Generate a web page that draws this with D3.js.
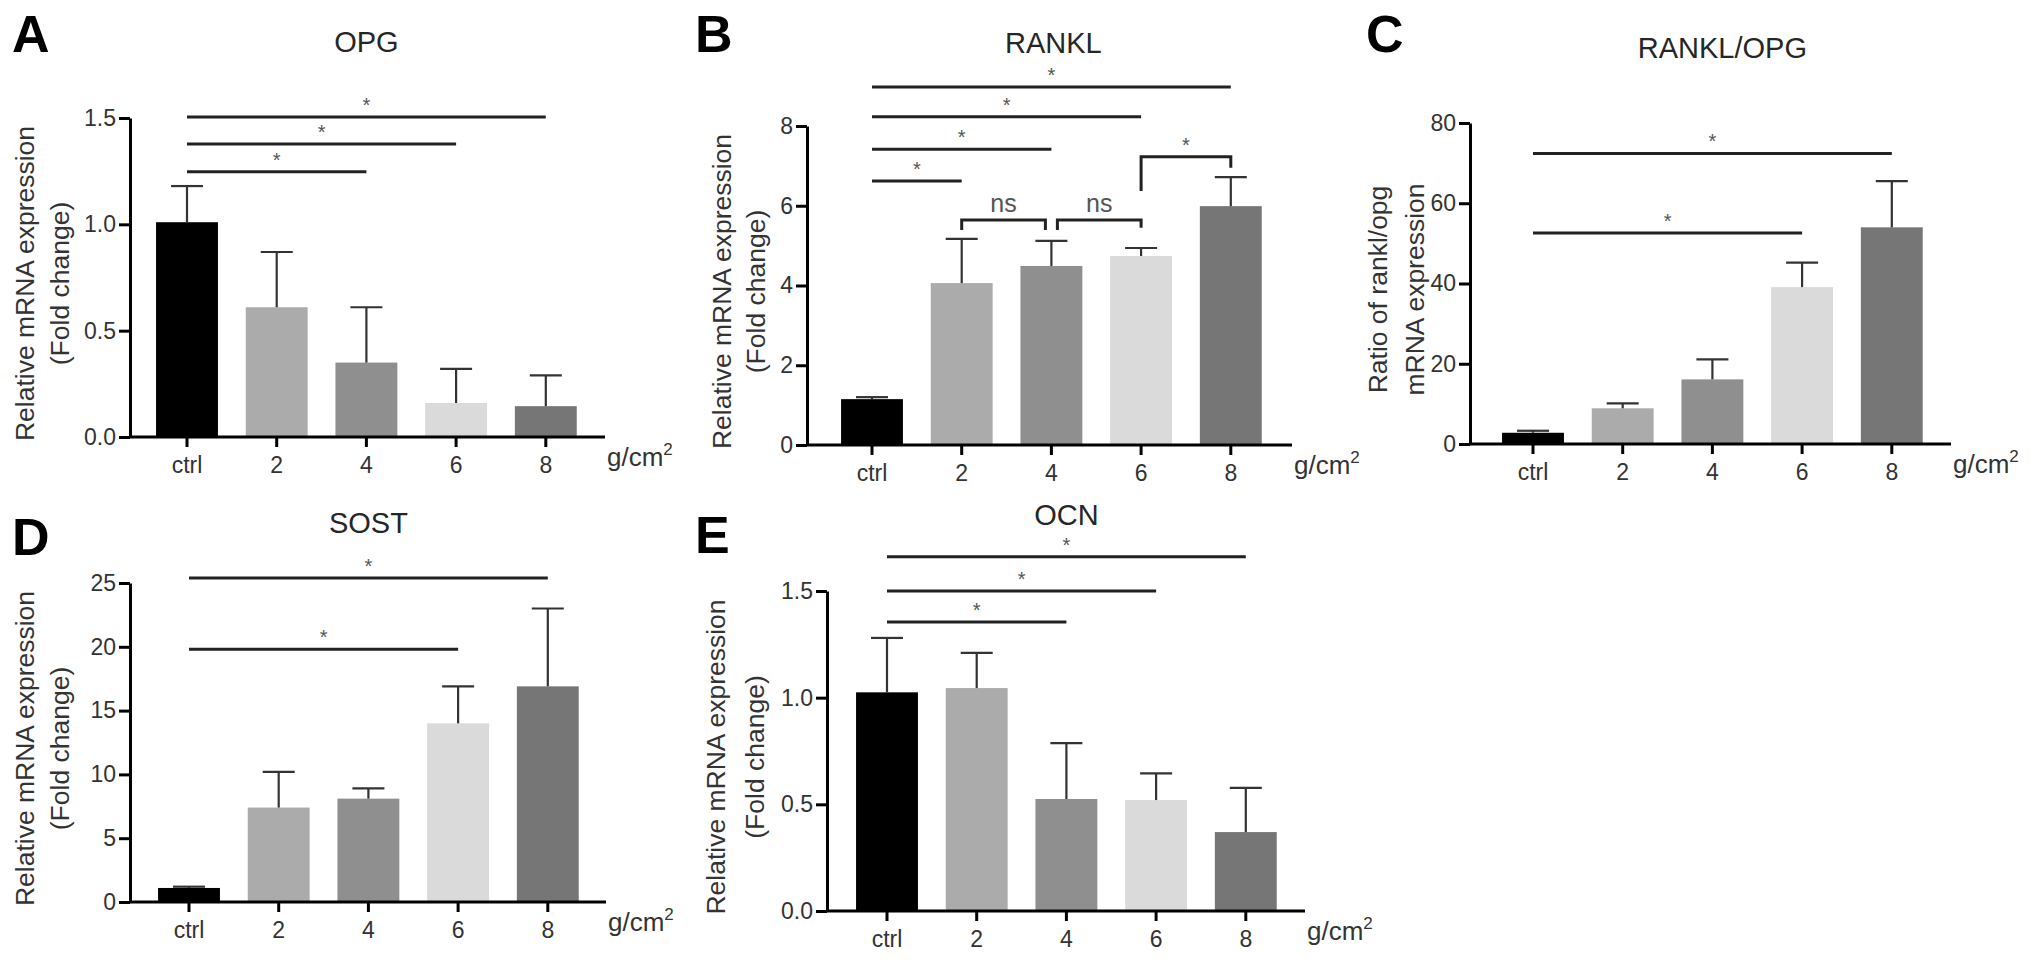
<!DOCTYPE html>
<html><head><meta charset="utf-8">
<script src="https://cdn.jsdelivr.net/npm/d3@7"></script>
<style>
html,body{margin:0;padding:0;background:#fff;}
svg{display:block;font-family:"Liberation Sans",Arial,Helvetica,sans-serif;}
</style></head>
<body>
<svg id="fig" width="2031" height="960"></svg>
<script>
// ---------------- data ----------------
const categories = ["ctrl", "2", "4", "6", "8"];
const unitLabel = "g/cm";

const opgMean  = [1.01, 0.61, 0.35, 0.16, 0.145];
const opgUpper = [1.18, 0.87, 0.61, 0.32, 0.29];
const opgTicks = [0, 0.5, 1.0, 1.5];
const opgSig   = [{from:"ctrl", to:"4", y:1.247}, {from:"ctrl", to:"6", y:1.378}, {from:"ctrl", to:"8", y:1.505}];

const ranklMean  = [1.15, 4.06, 4.49, 4.74, 5.99];
const ranklUpper = [1.20, 5.17, 5.12, 4.94, 6.72];
const ranklTicks = [0, 2, 4, 6, 8];
const ranklSig   = [{from:"ctrl", to:"2", y:6.62}, {from:"ctrl", to:"4", y:7.42}, {from:"ctrl", to:"6", y:8.23}, {from:"ctrl", to:"8", y:8.98}];
const ranklBrackets = [
  {from:"2", to:"4", top:5.64, left:5.39, right:5.39, label:"ns"},
  {from:"4", to:"6", top:5.64, left:5.39, right:5.45, label:"ns"},
  {from:"6", to:"8", top:7.23, left:6.37, right:6.95, label:"*"}
];

const ratioMean  = [2.8, 8.9, 16.1, 39.1, 54.0];
const ratioUpper = [3.3, 10.1, 21.1, 45.2, 65.5];
const ratioTicks = [0, 20, 40, 60, 80];
const ratioSig   = [{from:"ctrl", to:"6", y:52.6}, {from:"ctrl", to:"8", y:72.4}];

const sostMean  = [1.1, 7.4, 8.1, 14.0, 16.9];
const sostUpper = [1.2, 10.2, 8.9, 16.9, 23.0];
const sostTicks = [0, 5, 10, 15, 20, 25];
const sostSig   = [{from:"ctrl", to:"6", y:19.8}, {from:"ctrl", to:"8", y:25.4}];

const ocnMean  = [1.025, 1.045, 0.525, 0.52, 0.37];
const ocnUpper = [1.28, 1.21, 0.787, 0.645, 0.577];
const ocnTicks = [0, 0.5, 1.0, 1.5];
const ocnSig   = [{from:"ctrl", to:"4", y:1.355}, {from:"ctrl", to:"6", y:1.50}, {from:"ctrl", to:"8", y:1.66}];

const barColors = ["#000000", "#ababab", "#8f8f8f", "#dadada", "#767676"];

// ---------------- panels (built from the arrays) ----------------
const panels = [
  {letter:"A", title:"OPG", mean:opgMean, upper:opgUpper, ticks:opgTicks, fmt:".1f",
   ylab:["Relative mRNA expression","(Fold change)"], sig:opgSig, brackets:[]},
  {letter:"B", title:"RANKL", mean:ranklMean, upper:ranklUpper, ticks:ranklTicks, fmt:"d",
   ylab:["Relative mRNA expression","(Fold change)"], sig:ranklSig, brackets:ranklBrackets},
  {letter:"C", title:"RANKL/OPG", mean:ratioMean, upper:ratioUpper, ticks:ratioTicks, fmt:"d",
   ylab:["Ratio of rankl/opg","mRNA expression"], sig:ratioSig, brackets:[]},
  {letter:"D", title:"SOST", mean:sostMean, upper:sostUpper, ticks:sostTicks, fmt:"d",
   ylab:["Relative mRNA expression","(Fold change)"], sig:sostSig, brackets:[]},
  {letter:"E", title:"OCN", mean:ocnMean, upper:ocnUpper, ticks:ocnTicks, fmt:".1f",
   ylab:["Relative mRNA expression","(Fold change)"], sig:ocnSig, brackets:[]}
];

// ---------------- layout ----------------
const STEP = 89.7;
const layout = {
  A:{axisX:130,  c0:187,  axisEnd:605,  y0:437, yTop:118, letterX:12,   letterY:52,  titleDX:0,  titleY:52,  labX:[25,60]},
  B:{axisX:807,  c0:872,  axisEnd:1292, y0:445, yTop:126, letterX:695,  letterY:52,  titleDX:2,  titleY:53,  labX:[722,756]},
  C:{axisX:1470, c0:1533, axisEnd:1951, y0:444, yTop:123, letterX:1366, letterY:52,  titleDX:10, titleY:58,  labX:[1378,1415]},
  D:{axisX:130,  c0:189,  axisEnd:606,  y0:902, yTop:583, letterX:12,   letterY:555, titleDX:0,  titleY:533, labX:[25,60]},
  E:{axisX:827,  c0:887,  axisEnd:1305, y0:911, yTop:591, letterX:695,  letterY:553, titleDX:0,  titleY:525, labX:[716,755]}
};

const svg = d3.select("#fig");
svg.append("rect").attr("width",2031).attr("height",960).attr("fill","#fff");

const TEXT = "#262626";

panels.forEach(p => {
  const L = layout[p.letter];
  const g = svg.append("g");
  const x = d3.scaleBand().domain(categories)
      .range([L.c0 - STEP/2, L.c0 + 4.5*STEP]).paddingInner(0.31).paddingOuter(0.155);
  const yMax = p.ticks[p.ticks.length-1];
  const y = d3.scaleLinear().domain([0, yMax]).range([L.y0, L.yTop]);
  const cx = c => x(c) + x.bandwidth()/2;

  // panel letter
  g.append("text").attr("x", L.letterX).attr("y", L.letterY)
    .attr("font-size", 52).attr("font-weight", "bold").attr("fill", "#000").text(p.letter);
  // title
  g.append("text").attr("x", cx(categories[2]) + L.titleDX).attr("y", L.titleY)
    .attr("text-anchor","middle").attr("font-size", 29).attr("fill", TEXT).text(p.title);

  // bars
  g.selectAll("rect.bar").data(categories).join("rect").attr("class","bar")
    .attr("x", c => x(c)).attr("width", x.bandwidth())
    .attr("y", (c,i) => y(p.mean[i])).attr("height", (c,i) => y(0) - y(p.mean[i]))
    .attr("fill", (c,i) => barColors[i]);

  // error bars (upper only)
  const eb = g.selectAll("g.err").data(categories).join("g").attr("class","err")
    .attr("stroke","#333").attr("stroke-width",2.2).attr("fill","none");
  eb.append("line").attr("x1", c => cx(c)).attr("x2", c => cx(c))
    .attr("y1", (c,i) => y(p.mean[i])).attr("y2", (c,i) => y(p.upper[i]));
  eb.append("line").attr("x1", c => cx(c) - 16).attr("x2", c => cx(c) + 16)
    .attr("y1", (c,i) => y(p.upper[i])).attr("y2", (c,i) => y(p.upper[i]));

  // y axis
  const fmt = d3.format(p.fmt);
  const ya = g.append("g").attr("transform", `translate(${L.axisX},0)`)
    .call(d3.axisLeft(y).tickValues(p.ticks).tickFormat(fmt).tickSize(11).tickSizeOuter(0).tickPadding(3));
  ya.select(".domain").attr("stroke","#000").attr("stroke-width",3);
  ya.selectAll(".tick line").attr("stroke","#000").attr("stroke-width",3);
  ya.selectAll(".tick text").attr("font-size",23).attr("fill","#333")
    .attr("font-family",'"Liberation Sans",Arial,sans-serif');

  // x axis
  const xa = g.append("g").attr("transform", `translate(0,${L.y0})`)
    .call(d3.axisBottom(x).tickSize(10).tickSizeOuter(0).tickPadding(10));
  xa.select(".domain").remove();
  xa.selectAll(".tick line").attr("stroke","#000").attr("stroke-width",3);
  xa.selectAll(".tick text").attr("font-size",23).attr("fill","#333")
    .attr("font-family",'"Liberation Sans",Arial,sans-serif');
  g.append("line").attr("x1", L.axisX).attr("x2", L.axisEnd)
    .attr("y1", L.y0).attr("y2", L.y0).attr("stroke","#000").attr("stroke-width",3);

  // unit label g/cm²
  const u = g.append("text").attr("x", L.axisEnd + 2).attr("y", L.y0 + 29)
    .attr("font-size", 26).attr("fill", "#333");
  u.append("tspan").text(unitLabel);
  u.append("tspan").attr("font-size", 17).attr("dy", -11).text("2");

  // y axis label (two lines)
  const ymid = (L.y0 + L.yTop)/2 + 6;
  p.ylab.forEach((t, k) => {
    g.append("text").attr("transform", `translate(${L.labX[k]},${ymid}) rotate(-90)`)
      .attr("text-anchor","middle").attr("dy","0.35em")
      .attr("font-size", 26.5).attr("fill", "#333").text(t);
  });

  // significance lines
  p.sig.forEach(s => {
    const x1 = cx(s.from), x2 = cx(s.to), yy = y(s.y);
    g.append("line").attr("x1", x1).attr("x2", x2).attr("y1", yy).attr("y2", yy)
      .attr("stroke","#222").attr("stroke-width",3);
    g.append("text").attr("x", (x1+x2)/2).attr("y", yy - 5).attr("text-anchor","middle")
      .attr("font-size", 20).attr("fill","#555").text("*");
  });

  // brackets
  p.brackets.forEach(b => {
    const shareL = p.brackets.some(o => o !== b && o.to === b.from && o.label === b.label);
    const shareR = p.brackets.some(o => o !== b && o.from === b.to && o.label === b.label);
    const xl = cx(b.from) + (shareL ? 6 : 0);
    const xr = cx(b.to) - (shareR ? 6 : 0);
    g.append("path")
      .attr("d", `M${xl},${y(b.left)}V${y(b.top)}H${xr}V${y(b.right)}`)
      .attr("fill","none").attr("stroke","#222").attr("stroke-width",3);
    if (b.label === "ns") {
      g.append("text").attr("x", (xl+xr)/2).attr("y", y(b.top) - 8).attr("text-anchor","middle")
        .attr("font-size", 25).attr("fill","#555").text(b.label);
    } else {
      g.append("text").attr("x", (xl+xr)/2).attr("y", y(b.top) - 5).attr("text-anchor","middle")
        .attr("font-size", 20).attr("fill","#555").text(b.label);
    }
  });
});
</script>
</body></html>
